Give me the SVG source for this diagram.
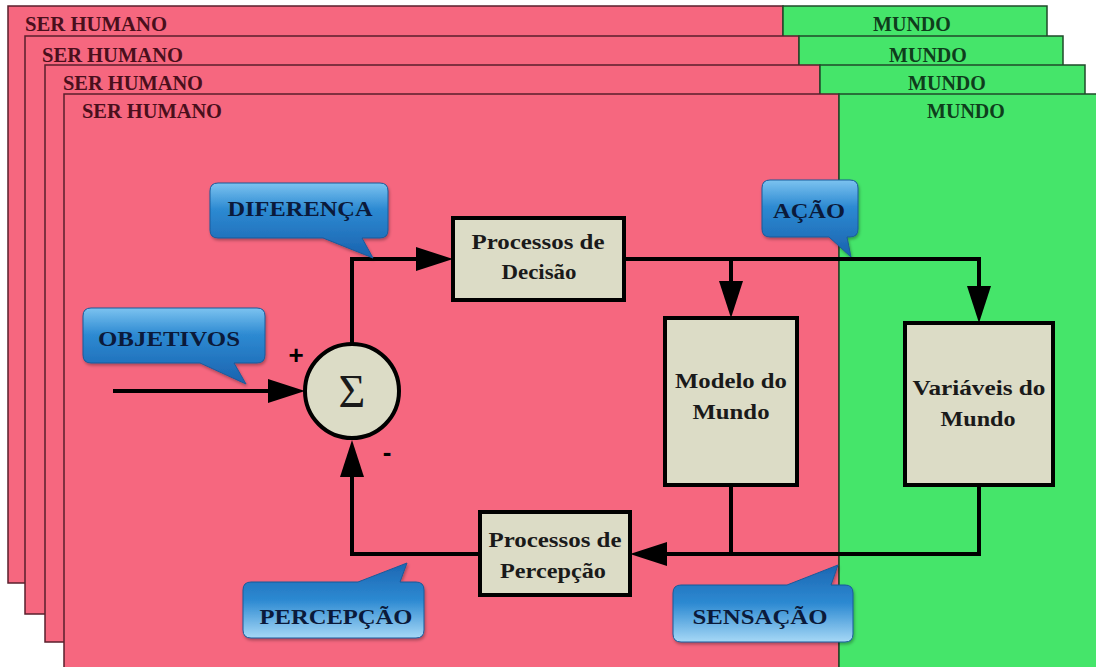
<svg xmlns="http://www.w3.org/2000/svg" width="1096" height="667" viewBox="0 0 1096 667">
<style>
.pink{fill:#f6677f;stroke:#5a1f2c;stroke-width:1.5}
.green{fill:#45e56a;stroke:#1f4a2a;stroke-width:1.5}
.lh{font-family:"Liberation Serif","Times New Roman",serif;font-weight:bold;font-size:20px;fill:#4a0f1c}
.lm{font-family:"Liberation Serif","Times New Roman",serif;font-weight:bold;font-size:20px;fill:#0f3d1c;text-anchor:middle}
.box{fill:#dcdcc6;stroke:#000;stroke-width:4}
.bt{font-family:"Liberation Serif","Times New Roman",serif;font-weight:bold;font-size:21px;fill:#1a1a1a;text-anchor:middle}
.ct{font-family:"Liberation Serif","Times New Roman",serif;font-weight:bold;font-size:21px;fill:#0b1a3a;text-anchor:middle}
.bubdn{fill:url(#gdn);stroke:#1a5a9a;stroke-width:1;filter:url(#sh)}
.bubup{fill:url(#gup);stroke:#1a5a9a;stroke-width:1;filter:url(#sh)}
.con{fill:none;stroke:#000;stroke-width:4}
.arr{marker-end:url(#ah)}
</style>
<defs>
<linearGradient id="gdn" x1="0" y1="0" x2="0" y2="1">
<stop offset="0" stop-color="#7cc3f0"/>
<stop offset="0.35" stop-color="#2d8ad2"/>
<stop offset="1" stop-color="#1a62ae"/>
</linearGradient>
<linearGradient id="gup" x1="0" y1="0" x2="0" y2="1">
<stop offset="0" stop-color="#1c66b2"/>
<stop offset="0.5" stop-color="#2d8ad2"/>
<stop offset="1" stop-color="#a6d8f6"/>
</linearGradient>
<filter id="sh" x="-10%" y="-10%" width="125%" height="130%">
<feDropShadow dx="1" dy="2" stdDeviation="1.5" flood-color="#000" flood-opacity="0.3"/>
</filter>
<marker id="ah" markerUnits="userSpaceOnUse" markerWidth="40" markerHeight="26" refX="29" refY="12" orient="auto">
<path d="M0,0 L37,12 L0,24 Z" fill="#000"/>
</marker>
</defs>

<g id="layer1">
<rect class="pink" x="8" y="6" width="775" height="577"/>
<rect class="green" x="783" y="6" width="264" height="577"/>
<text class="lh" x="25" y="31" textLength="142" lengthAdjust="spacingAndGlyphs">SER HUMANO</text>
<text class="lm" x="912" y="31">MUNDO</text>
</g>
<g id="layer2">
<rect class="pink" x="25" y="36" width="774" height="578"/>
<rect class="green" x="799" y="36" width="264" height="578"/>
<text class="lh" x="42" y="62" textLength="141" lengthAdjust="spacingAndGlyphs">SER HUMANO</text>
<text class="lm" x="928" y="62">MUNDO</text>
</g>
<g id="layer3">
<rect class="pink" x="45" y="65" width="775" height="577"/>
<rect class="green" x="820" y="65" width="265" height="577"/>
<text class="lh" x="63" y="90" textLength="140" lengthAdjust="spacingAndGlyphs">SER HUMANO</text>
<text class="lm" x="947" y="90">MUNDO</text>
</g>
<g id="layer4">
<rect class="pink" x="64" y="94" width="775" height="600"/>
<rect class="green" x="839" y="94" width="280" height="600"/>
<text class="lh" x="82" y="118" textLength="140" lengthAdjust="spacingAndGlyphs">SER HUMANO</text>
<text class="lm" x="966" y="118">MUNDO</text>
</g>

<g id="connectors">
<path class="con arr" d="M113,391 H297"/>
<path class="con arr" d="M352,344 V259 H445"/>
<path class="con arr" d="M624,259 H979 V315"/>
<path class="con arr" d="M731,259 V310"/>
<path class="con" d="M731,485 V554"/>
<path class="con arr" d="M979,485 V554 H638"/>
<path class="con arr" d="M480,554 H352 V448"/>
</g>

<g id="sum">
<circle class="box" cx="352" cy="391" r="47"/>
<text x="352" y="407" text-anchor="middle" font-family="'Liberation Serif','Times New Roman',serif" font-size="46" fill="#1a1a1a">Σ</text>
<text x="296" y="364" text-anchor="middle" font-family="'Liberation Sans',Arial,sans-serif" font-weight="bold" font-size="26" fill="#000">+</text>
<text x="387" y="461" text-anchor="middle" font-family="'Liberation Sans',Arial,sans-serif" font-weight="bold" font-size="26" fill="#000">-</text>
</g>

<g id="decisao">
<rect class="box" x="453" y="218" width="171" height="82"/>
<text class="bt" x="538" y="249" textLength="133" lengthAdjust="spacingAndGlyphs">Processos de</text>
<text class="bt" x="539" y="279" textLength="75" lengthAdjust="spacingAndGlyphs">Decisão</text>
</g>
<g id="modelo">
<rect class="box" x="665" y="318" width="132" height="167"/>
<text class="bt" x="731" y="388" textLength="112" lengthAdjust="spacingAndGlyphs">Modelo do</text>
<text class="bt" x="731" y="419" textLength="77" lengthAdjust="spacingAndGlyphs">Mundo</text>
</g>
<g id="variaveis">
<rect class="box" x="905" y="323" width="148" height="162"/>
<text class="bt" x="979" y="395" textLength="133" lengthAdjust="spacingAndGlyphs">Variáveis do</text>
<text class="bt" x="978" y="426" textLength="75" lengthAdjust="spacingAndGlyphs">Mundo</text>
</g>
<g id="percepcao">
<rect class="box" x="480" y="512" width="150" height="83"/>
<text class="bt" x="555" y="547" textLength="133" lengthAdjust="spacingAndGlyphs">Processos de</text>
<text class="bt" x="553" y="578" textLength="106" lengthAdjust="spacingAndGlyphs">Percepção</text>
</g>

<g id="call-diferenca">
<path class="bubdn" d="M218,183 H380 Q388,183 388,191 V230 Q388,238 380,238 H362 L373,258 L323,238 H218 Q210,238 210,230 V191 Q210,183 218,183 Z"/>
<text class="ct" x="300" y="216" textLength="145" lengthAdjust="spacingAndGlyphs">DIFERENÇA</text>
</g>
<g id="call-acao">
<path class="bubdn" d="M770,180 H850 Q858,180 858,188 V229 Q858,237 850,237 H847 L851,257 L829,237 H770 Q762,237 762,229 V188 Q762,180 770,180 Z"/>
<text class="ct" x="809" y="218" textLength="72" lengthAdjust="spacingAndGlyphs">AÇÃO</text>
</g>
<g id="call-objetivos">
<path class="bubdn" d="M91,308 H257 Q265,308 265,316 V355 Q265,363 257,363 H234 L246,384 L200,363 H91 Q83,363 83,355 V316 Q83,308 91,308 Z"/>
<text class="ct" x="169" y="346" textLength="142" lengthAdjust="spacingAndGlyphs">OBJETIVOS</text>
</g>
<g id="call-percepcao">
<path class="bubup" d="M251,582 H358 L407,563 L400,582 H416 Q424,582 424,590 V630 Q424,638 416,638 H251 Q243,638 243,630 V590 Q243,582 251,582 Z"/>
<text class="ct" x="336" y="624" textLength="153" lengthAdjust="spacingAndGlyphs">PERCEPÇÃO</text>
</g>
<g id="call-sensacao">
<path class="bubup" d="M681,585 H787 L838,565 L831,585 H845 Q853,585 853,593 V634 Q853,642 845,642 H681 Q673,642 673,634 V593 Q673,585 681,585 Z"/>
<text class="ct" x="760" y="624" textLength="135" lengthAdjust="spacingAndGlyphs">SENSAÇÃO</text>
</g>
</svg>
